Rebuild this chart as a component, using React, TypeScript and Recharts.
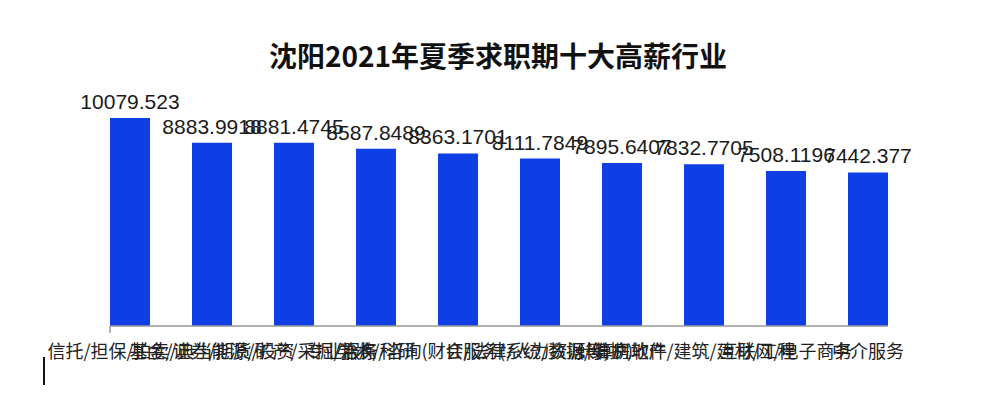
import React from "react";
import { BarChart, Bar, XAxis, YAxis, LabelList } from "recharts";

document.body.style.margin = "0";

const industries = [
  "信托/担保/拍卖/典当",
  "基金/证券/期货/投资",
  "能源/矿产/采掘/冶炼",
  "学术/科研",
  "专业服务/咨询(财会/法律/人力资源等)",
  "IT服务(系统/数据/维护)",
  "计算机软件",
  "房地产/建筑/建材/工程",
  "互联网/电子商务",
  "中介服务",
];

const salaries = [
  10079.523, 8883.9918, 8881.4745, 8587.8489, 8363.1701,
  8111.7849, 7895.6407, 7832.7705, 7508.1196, 7442.377,
];

const data = industries.map((name, i) => ({ name, salary: salaries[i] }));

const BAR_BLUE = "#0e3fe4";
const BAR_SIZE = 40;
const CJK = '"Noto Sans CJK SC", "Liberation Sans", sans-serif';
const NUM = '"Liberation Sans", Arial, sans-serif';

function IndustryTick(props: any) {
  const { x, y, payload, index } = props;
  return (
    <g>
      {index === 0 && (
        <line x1={x - BAR_SIZE / 2} x2={x - BAR_SIZE / 2} y1={y - 8} y2={y - 1} stroke="#999" strokeWidth={1.5} />
      )}
      <text x={x} y={y} dy={24} textAnchor="middle" fontSize={18} fontFamily={CJK} fill="#222">
        {payload.value}
      </text>
    </g>
  );
}

export default function App() {
  return (
    <div style={{ position: "relative", width: 990, height: 400, background: "#fff" }}>
      <div
        style={{
          position: "absolute",
          left: 0,
          width: 996,
          top: 36,
          textAlign: "center",
          fontFamily: CJK,
          fontWeight: 700,
          fontSize: 28,
          color: "#111",
          lineHeight: "38px",
        }}
      >
        沈阳2021年夏季求职期十大高薪行业
      </div>
      <BarChart
        width={990}
        height={400}
        data={data}
        margin={{ top: 118, right: 102, bottom: 44, left: 110 }}
      >
        <XAxis
          dataKey="name"
          interval={0}
          height={30}
          padding={{ left: -21, right: -21 }}
          tickLine={false}
          axisLine={{ stroke: "#999", strokeWidth: 1.5 }}
          tick={<IndustryTick />}
        />
        <YAxis hide domain={[0, "dataMax"]} />
        <Bar dataKey="salary" fill={BAR_BLUE} barSize={BAR_SIZE} isAnimationActive={false}>
          <LabelList
            dataKey="salary"
            position="top"
            offset={9}
            fontSize={21}
            fontFamily={NUM}
            fill="#1a1a1a"
          />
        </Bar>
      </BarChart>
      <div style={{ position: "absolute", left: 43, top: 357, width: 2, height: 28, background: "#111" }} />
    </div>
  );
}
